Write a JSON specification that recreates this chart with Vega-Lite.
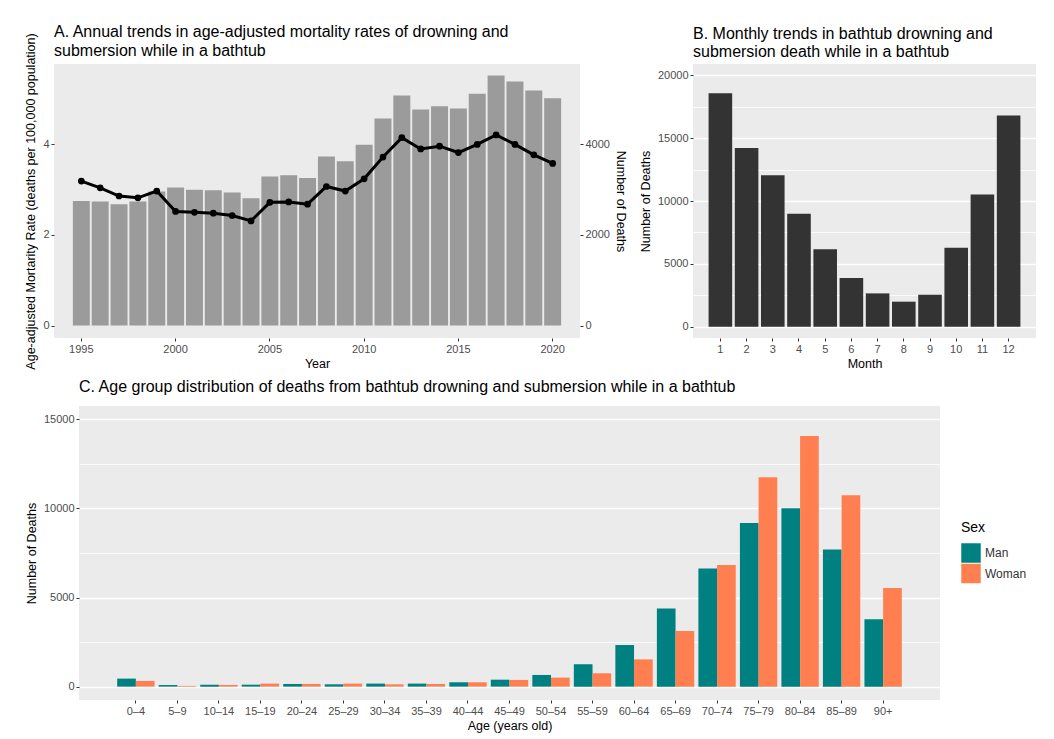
{
  "$schema": "https://vega.github.io/schema/vega-lite/v6.json",
  "background": "white",
  "padding": {"left": 24, "top": 24, "right": 5, "bottom": 4},
  "datasets": {
    "annual": [
      {"year": 1995, "deaths": 2750, "rate": 3.19},
      {"year": 1996, "deaths": 2740, "rate": 3.04},
      {"year": 1997, "deaths": 2680, "rate": 2.86},
      {"year": 1998, "deaths": 2740, "rate": 2.82},
      {"year": 1999, "deaths": 2960, "rate": 2.97},
      {"year": 2000, "deaths": 3050, "rate": 2.52},
      {"year": 2001, "deaths": 3000, "rate": 2.50},
      {"year": 2002, "deaths": 2990, "rate": 2.48},
      {"year": 2003, "deaths": 2940, "rate": 2.43},
      {"year": 2004, "deaths": 2810, "rate": 2.31},
      {"year": 2005, "deaths": 3290, "rate": 2.72},
      {"year": 2006, "deaths": 3320, "rate": 2.73},
      {"year": 2007, "deaths": 3260, "rate": 2.68},
      {"year": 2008, "deaths": 3730, "rate": 3.07},
      {"year": 2009, "deaths": 3630, "rate": 2.97},
      {"year": 2010, "deaths": 3990, "rate": 3.24},
      {"year": 2011, "deaths": 4570, "rate": 3.72},
      {"year": 2012, "deaths": 5080, "rate": 4.15},
      {"year": 2013, "deaths": 4770, "rate": 3.90},
      {"year": 2014, "deaths": 4840, "rate": 3.96},
      {"year": 2015, "deaths": 4790, "rate": 3.82},
      {"year": 2016, "deaths": 5120, "rate": 4.00},
      {"year": 2017, "deaths": 5520, "rate": 4.21},
      {"year": 2018, "deaths": 5390, "rate": 4.00},
      {"year": 2019, "deaths": 5190, "rate": 3.77},
      {"year": 2020, "deaths": 5020, "rate": 3.58}
    ],
    "monthly": [
      {"month": 1, "deaths": 18570},
      {"month": 2, "deaths": 14225},
      {"month": 3, "deaths": 12050},
      {"month": 4, "deaths": 8980},
      {"month": 5, "deaths": 6170},
      {"month": 6, "deaths": 3870},
      {"month": 7, "deaths": 2650},
      {"month": 8, "deaths": 1990},
      {"month": 9, "deaths": 2540},
      {"month": 10, "deaths": 6280},
      {"month": 11, "deaths": 10520},
      {"month": 12, "deaths": 16800}
    ],
    "age": [
      {"age": "0–4", "sex": "Man", "deaths": 450},
      {"age": "0–4", "sex": "Woman", "deaths": 320},
      {"age": "5–9", "sex": "Man", "deaths": 90},
      {"age": "5–9", "sex": "Woman", "deaths": 40},
      {"age": "10–14", "sex": "Man", "deaths": 110},
      {"age": "10–14", "sex": "Woman", "deaths": 95},
      {"age": "15–19", "sex": "Man", "deaths": 110},
      {"age": "15–19", "sex": "Woman", "deaths": 170},
      {"age": "20–24", "sex": "Man", "deaths": 150},
      {"age": "20–24", "sex": "Woman", "deaths": 150},
      {"age": "25–29", "sex": "Man", "deaths": 130},
      {"age": "25–29", "sex": "Woman", "deaths": 170},
      {"age": "30–34", "sex": "Man", "deaths": 170},
      {"age": "30–34", "sex": "Woman", "deaths": 130},
      {"age": "35–39", "sex": "Man", "deaths": 170},
      {"age": "35–39", "sex": "Woman", "deaths": 150},
      {"age": "40–44", "sex": "Man", "deaths": 245},
      {"age": "40–44", "sex": "Woman", "deaths": 245},
      {"age": "45–49", "sex": "Man", "deaths": 390},
      {"age": "45–49", "sex": "Woman", "deaths": 375},
      {"age": "50–54", "sex": "Man", "deaths": 655},
      {"age": "50–54", "sex": "Woman", "deaths": 505},
      {"age": "55–59", "sex": "Man", "deaths": 1250},
      {"age": "55–59", "sex": "Woman", "deaths": 750},
      {"age": "60–64", "sex": "Man", "deaths": 2335},
      {"age": "60–64", "sex": "Woman", "deaths": 1530},
      {"age": "65–69", "sex": "Man", "deaths": 4390},
      {"age": "65–69", "sex": "Woman", "deaths": 3120},
      {"age": "70–74", "sex": "Man", "deaths": 6630},
      {"age": "70–74", "sex": "Woman", "deaths": 6820},
      {"age": "75–79", "sex": "Man", "deaths": 9190},
      {"age": "75–79", "sex": "Woman", "deaths": 11750},
      {"age": "80–84", "sex": "Man", "deaths": 10010},
      {"age": "80–84", "sex": "Woman", "deaths": 14065},
      {"age": "85–89", "sex": "Man", "deaths": 7700},
      {"age": "85–89", "sex": "Woman", "deaths": 10740},
      {"age": "90+", "sex": "Man", "deaths": 3775},
      {"age": "90+", "sex": "Woman", "deaths": 5530}
    ]
  },
  "columns": 1,
  "align": "none",
  "spacing": 9,
  "resolve": {"scale": {"color": "independent"}, "legend": {"color": "independent"}},
  "concat": [
    {
      "bounds": "flush",
      "spacing": 113,
      "hconcat": [
        {
          "width": 526,
          "height": 274,
          "title": {"text": ["A.  Annual trends in age-adjusted mortality rates of drowning and", "submersion while in a bathtub"], "offset": -26},
          "data": {"name": "annual"},
          "encoding": {
            "x": {"field": "year", "type": "ordinal", "scale": {"paddingInner": 0.1, "paddingOuter": 1.295},
                  "axis": {"values": [1995, 2000, 2005, 2010, 2015, 2020], "labelAngle": 0, "title": "Year"}}
          },
          "layer": [
            {
              "mark": {"type": "bar", "color": "#9b9b9b"},
              "encoding": {
                "y": {"field": "deaths", "type": "quantitative", "scale": {"domain": [-275, 5775], "nice": false, "zero": false},
                      "axis": {"orient": "right", "values": [0, 2000, 4000], "format": "d", "grid": false, "titlePadding": 4, "title": "Number of Deaths"}},
                "y2": {"datum": 0}
              }
            },
            {
              "mark": {"type": "line", "color": "black", "strokeWidth": 3, "point": {"filled": true, "size": 45, "color": "black"}},
              "encoding": {
                "y": {"field": "rate", "type": "quantitative", "scale": {"domain": [-0.275, 5.775], "nice": false, "zero": false},
                      "axis": {"orient": "left", "values": [0, 1, 2, 3, 4, 5],
                               "labelExpr": "datum.value % 2 == 0 ? datum.label : ''",
                               "tickOpacity": {"condition": {"test": "datum.value % 2 == 1", "value": 0}, "value": 1},
                               "gridWidth": {"condition": {"test": "datum.value % 2 == 1", "value": 0.8}, "value": 1.6},
                               "titleLimit": 400,
                               "title": "Age-adjusted Mortarity Rate (deaths per 100,000 population)"}}
              }
            }
          ],
          "resolve": {"scale": {"y": "independent"}}
        },
        {
          "width": 343,
          "height": 274,
          "title": {"text": ["B.  Monthly trends in bathtub drowning and", "submersion death while in a bathtub"], "offset": 4},
          "data": {"name": "monthly"},
          "mark": {"type": "bar", "color": "#333333"},
          "encoding": {
            "x": {"field": "month", "type": "ordinal", "scale": {"paddingInner": 0.1, "paddingOuter": 0.595},
                  "axis": {"labelAngle": 0, "title": "Month"}},
            "y": {"field": "deaths", "type": "quantitative", "scale": {"domain": [-900, 20900], "nice": false, "zero": false},
                  "axis": {"values": [0, 2500, 5000, 7500, 10000, 12500, 15000, 17500, 20000], "format": "d",
                           "labelExpr": "datum.value % 5000 == 0 ? datum.label : ''",
                           "tickOpacity": {"condition": {"test": "datum.value % 5000 != 0", "value": 0}, "value": 1},
                           "gridWidth": {"condition": {"test": "datum.value % 5000 != 0", "value": 0.8}, "value": 1.6},
                           "title": "Number of Deaths"}},
            "y2": {"datum": 0}
          }
        }
      ]
    },
    {
      "bounds": "flush",
      "spacing": 24,
      "resolve": {"scale": {"color": "independent"}, "legend": {"color": "independent"}},
      "hconcat": [
        {
          "width": 1,
          "height": 294,
          "view": {"fill": null, "stroke": null},
          "data": {"name": "age"},
          "mark": {"type": "text", "text": ""}
        },
        {
          "width": 861,
          "height": 294,
          "title": {"text": "C.  Age group distribution of deaths from bathtub drowning  and submersion while in a bathtub", "offset": 11},
          "data": {"name": "age"},
          "mark": {"type": "bar"},
          "encoding": {
            "x": {"field": "age", "type": "nominal", "sort": null, "scale": {"paddingInner": 0.1, "paddingOuter": 0.92},
                  "axis": {"labelAngle": 0, "title": "Age (years old)"}},
            "xOffset": {"field": "sex", "type": "nominal", "scale": {"paddingInner": 0, "paddingOuter": 0}},
            "y": {"field": "deaths", "type": "quantitative", "scale": {"domain": [-750, 15750], "nice": false, "zero": false},
                  "axis": {"values": [0, 2500, 5000, 7500, 10000, 12500, 15000], "format": "d",
                           "labelExpr": "datum.value % 5000 == 0 ? datum.label : ''",
                           "tickOpacity": {"condition": {"test": "datum.value % 5000 != 0", "value": 0}, "value": 1},
                           "gridWidth": {"condition": {"test": "datum.value % 5000 != 0", "value": 0.8}, "value": 1.6},
                           "title": "Number of Deaths"}},
            "y2": {"datum": 0},
            "color": {"field": "sex", "type": "nominal",
                      "scale": {"domain": ["Man", "Woman"], "range": ["#008080", "#FF7F50"]},
                      "legend": {"title": "Sex", "orient": "none", "legendX": 882, "legendY": 115}}
          }
        }
      ]
    }
  ],
  "config": {
    "font": "Liberation Sans",
    "view": {"fill": "#EBEBEB", "stroke": null},
    "axis": {"domain": false, "labelColor": "#4D4D4D", "labelFontSize": 11, "titleFontSize": 12.5, "titleFontWeight": "normal",
             "titleColor": "black", "tickColor": "#333333", "tickSize": 3, "labelPadding": 2, "gridColor": "white", "gridWidth": 1.6},
    "axisX": {"grid": false, "titlePadding": 3},
    "axisY": {"grid": true, "titlePadding": 5},
    "title": {"fontSize": 16, "fontWeight": "normal", "anchor": "start", "frame": "group", "color": "black", "lineHeight": 18.5, "offset": 5},
    "legend": {"symbolType": "square", "symbolSize": 380, "symbolStrokeWidth": 0, "rowPadding": 0.5, "labelFontSize": 12,
               "titleFontSize": 14, "titleFontWeight": "normal", "labelColor": "#333333", "titleColor": "black", "titlePadding": 8}
  }
}
